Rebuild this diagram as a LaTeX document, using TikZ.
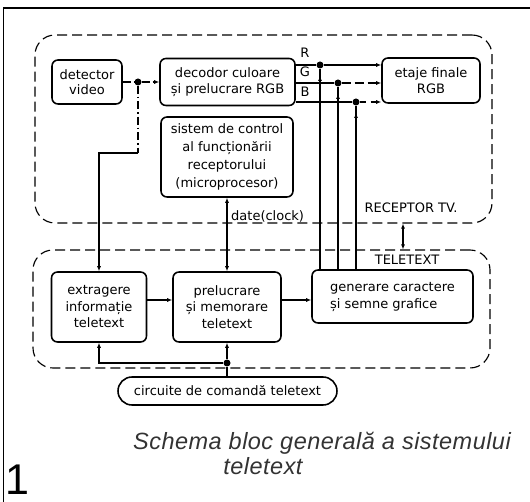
\documentclass[tikz,border=0pt]{standalone}
\usepackage{fontspec}
\setmainfont{DejaVu Sans}
\newfontfamily\capfont[LetterSpace=2]{Liberation Sans}
\newfontfamily\nrfont{Liberation Sans}
\usetikzlibrary{arrows.meta}
\tikzset{
	blok/.style={draw, line width=0.55mm, rounded corners=6pt, align=center, inner sep=0pt, font=\fontsize{13}{15.5}\selectfont},
	zona/.style={draw, line width=0.4mm, rounded corners=20pt, dash pattern=on 10pt off 5pt, inner sep=0pt},
	leg/.style={line width=0.4mm},
	sag/.style={leg, -{Latex[length=5pt,width=4pt]}},
	sagd/.style={leg, {Latex[length=5pt,width=4pt]}-{Latex[length=5pt,width=4pt]}},
	video/.style={leg, dash pattern=on 8pt off 3pt on 1.5pt off 3pt},
	punct/.style={circle, fill=black, inner sep=0pt, minimum size=7pt},
	eticheta/.style={inner sep=0pt, font=\fontsize{13}{15.5}\selectfont},
}

\begin{document}
\begin{tikzpicture}[x=1pt, y=-1pt]
		%%%%% START %%%%%
		\useasboundingbox (0,0) rectangle (530,502);
		
		\draw[line width=0.6mm] (3.5,502) -- (3.5,8) -- (530,8);
		
		\node[zona, minimum width=457pt, minimum height=188pt] (tv) at (263.5,129) {};
		\node[zona, minimum width=457pt, minimum height=118pt] (tt) at (261.5,309) {};
		
		\node[blok, minimum width=70pt, minimum height=44pt] (detector) at (87,82) {detector\\video};
		\node[blok, minimum width=135pt, minimum height=47pt] (decodor) at (227.5,82) {decodor culoare\\și prelucrare RGB};
		\node[blok, minimum width=98pt, minimum height=45pt] (etaje) at (431,80.5) {etaje finale\\RGB};
		\node[blok, minimum width=132pt, minimum height=80pt, font=\fontsize{13}{18}\selectfont] (sistem) at (227,157) {sistem de control\\al funcționării\\receptorului\\(microprocesor)};
		
		\node[blok, minimum width=95pt, minimum height=70pt, font=\fontsize{13}{16.5}\selectfont] (extragere) at (99,307) {extragere\\informație\\teletext};
		\node[blok, minimum width=108pt, minimum height=70pt, font=\fontsize{13}{16.5}\selectfont] (prelucrare) at (227,307) {prelucrare\\și memorare\\teletext};
		\node[blok, minimum width=161pt, minimum height=53pt, align=left, font=\fontsize{13}{17}\selectfont] (generare) at (392.5,296.5) {generare caractere\\și semne grafice};
		\node[blok, rounded corners=14pt, minimum width=219pt, minimum height=28pt] (circuite) at (227.5,391) {circuite de comandă teletext};
		
		\node[eticheta] (lr) at (305,53) {R};
		\node[eticheta] (lg) at (305,72) {G};
		\node[eticheta] (lb) at (305,92) {B};
		\node[eticheta, anchor=west] (date) at (231,216) {date(clock)};
		\node[eticheta] (rtv) at (411,208) {RECEPTOR TV.};
		\node[eticheta] (ttx) at (407,260) {TELETEXT};
		
		\node[punct] (vid) at (138,82) {};
		\node[punct] (r) at (320,65) {};
		\node[punct] (g) at (338,83) {};
		\node[punct] (b) at (356,102) {};
		\node[punct] (cdot) at (227,363) {};
		\coordinate (vbend) at (138,153);
		\coordinate (datay) at (0,300);
		\coordinate (tvlink) at (403,236);
		
		% semnal video
		\draw[video] (detector.east |- vid) -- (vid);
		\draw[sag, video] (vid) -- (decodor.west |- vid);
		\draw[video] (vid) -- (vbend);
		\draw[sag] (vbend) -| (extragere.north);
		
		% R G B
		\draw[leg] (decodor.east |- r) -- (r);
		\draw[sag] (r) -- (etaje.west |- r);
		\draw[leg] (decodor.east |- g) -- (g);
		\draw[sag, dash pattern=on 9pt off 4pt] (g) -- (etaje.west |- g);
		\draw[leg] (decodor.east |- b) -- (b);
		\draw[sag, dash pattern=on 6pt off 5pt] (b) -- (etaje.west |- b);
		\foreach \c in {r,g,b} {
			\draw[leg] (generare.north -| \c) -- (\c);
			\draw[sag] (generare.north -| \c) -- ([yshift=-11pt]\c.center);
		}
		
		\draw[sagd] (sistem.south) -- (prelucrare.north);
		\draw[sagd] (tv.south -| tvlink) -- (tt.north -| tvlink);
		
		\draw[sag] (extragere.east |- datay) -- (prelucrare.west |- datay);
		\draw[sag] (prelucrare.east |- datay) -- (generare.west |- datay);
		
		\draw[leg] (circuite.north -| cdot) -- (cdot);
		\draw[sag] (cdot) -- (prelucrare.south);
		\draw[sag] (cdot) -| (extragere.south);
		
		\node[anchor=base, text=black!80, font=\capfont\itshape\fontsize{23.5}{28}\selectfont] (titlu) at (322,449) {Schema bloc generală a sistemului};
		\node[anchor=base, text=black!80, font=\capfont\itshape\fontsize{23.5}{28}\selectfont] (titlu2) at (263,474) {teletext};
		\node[anchor=base west, inner sep=0pt, font=\nrfont\fontsize{43}{43}\selectfont] (nr) at (5,494) {1};
		
		%%%%% END %%%%%
\end{tikzpicture}
\end{document}
